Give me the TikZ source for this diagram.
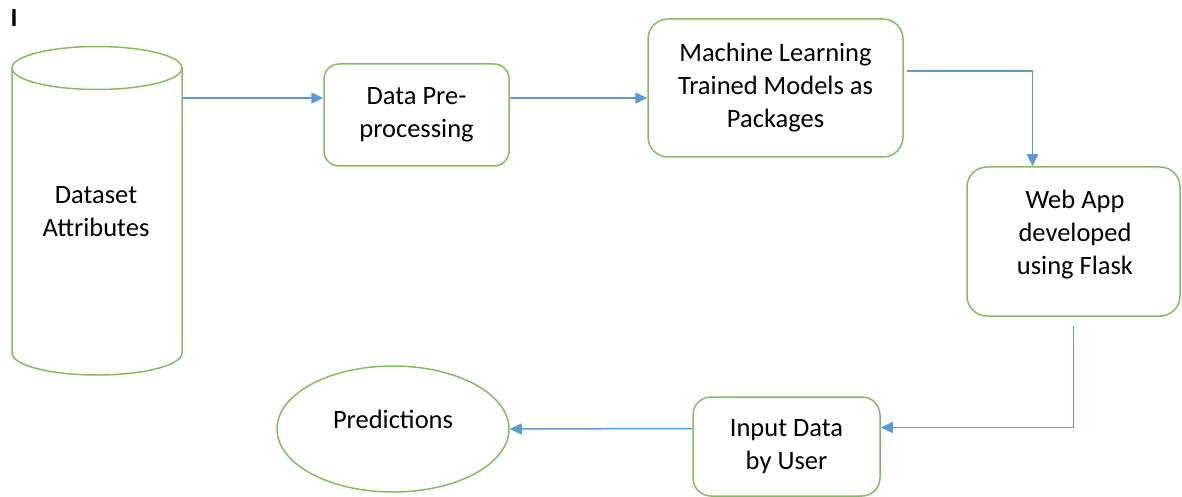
\documentclass[tikz,border=0pt]{standalone}
\usepackage{fontspec}
\setmainfont{Carlito}
\usetikzlibrary{arrows.meta,shapes.geometric}
\definecolor{grn}{RGB}{130,190,95}
\definecolor{blu}{RGB}{91,155,213}
\tikzset{
  gline/.style={draw=grn, line width=1.5pt},
  box/.style={gline, rounded corners=#1, align=center, inner sep=0pt,
    font=\fontsize{26.5}{33}\selectfont},
  box/.default=18pt,
  conn/.style={draw=blu, line width=1.5pt, -{Triangle[length=12pt,width=11pt]}},
  txt/.style={align=center, inner sep=0pt, font=\fontsize{26.5}{33}\selectfont}
}
\begin{document}
\begin{tikzpicture}[x=1pt,y=-1pt]
\useasboundingbox (0,0) rectangle (1182,497);
% label
\node[inner sep=0pt, font=\fontsize{26}{30}\selectfont\bfseries] (lab) at (14,18) {I};
% cylinder
\draw[gline] (12,68) -- (12,353) arc[start angle=180, end angle=0, x radius=85, y radius=22] -- (182,68);
\draw[gline] (97,68) ellipse [x radius=85, y radius=21.5];
\node[txt] (ds) at (96,212) {Dataset\\Attributes};
\coordinate (dsr) at (182,98);
% boxes
\node[box=15pt, minimum width=185pt, minimum height=102pt] (dp) at (416.5,115) {Data Pre-\\processing};
\node[box=20pt, minimum width=255pt, minimum height=138pt] (ml) at (775.5,88) {Machine Learning\\Trained Models as\\Packages};
\node[box=20pt, minimum width=213pt, minimum height=149pt] (wa) at (1073.5,241.5) {};
\node[txt] (watxt) at (1075,235) {Web App\\developed\\using Flask};
\node[box=18pt, minimum width=187pt, minimum height=99pt] (in) at (786.5,446.5) {Input Data\\by User};
\node[ellipse, gline, minimum width=232pt, minimum height=126pt, inner sep=0pt,
  font=\fontsize{26.5}{33}\selectfont] (pr) at (393,429) {\raisebox{20pt}{Predictions}};
% connectors
\draw[conn] (dsr) -- (dsr -| dp.west);
\draw[conn] ([yshift=17pt]dp.east) -- ([yshift=17pt]dp.east -| ml.west);
\draw[conn] ([xshift=3pt,yshift=17pt]ml.east) -| ([xshift=-41pt]wa.north);
\draw[conn] ([yshift=-9pt]wa.south) |- ([yshift=19pt]in.east);
\draw[conn] ([yshift=18pt]in.west) -- (pr.east);
\end{tikzpicture}
\end{document}
